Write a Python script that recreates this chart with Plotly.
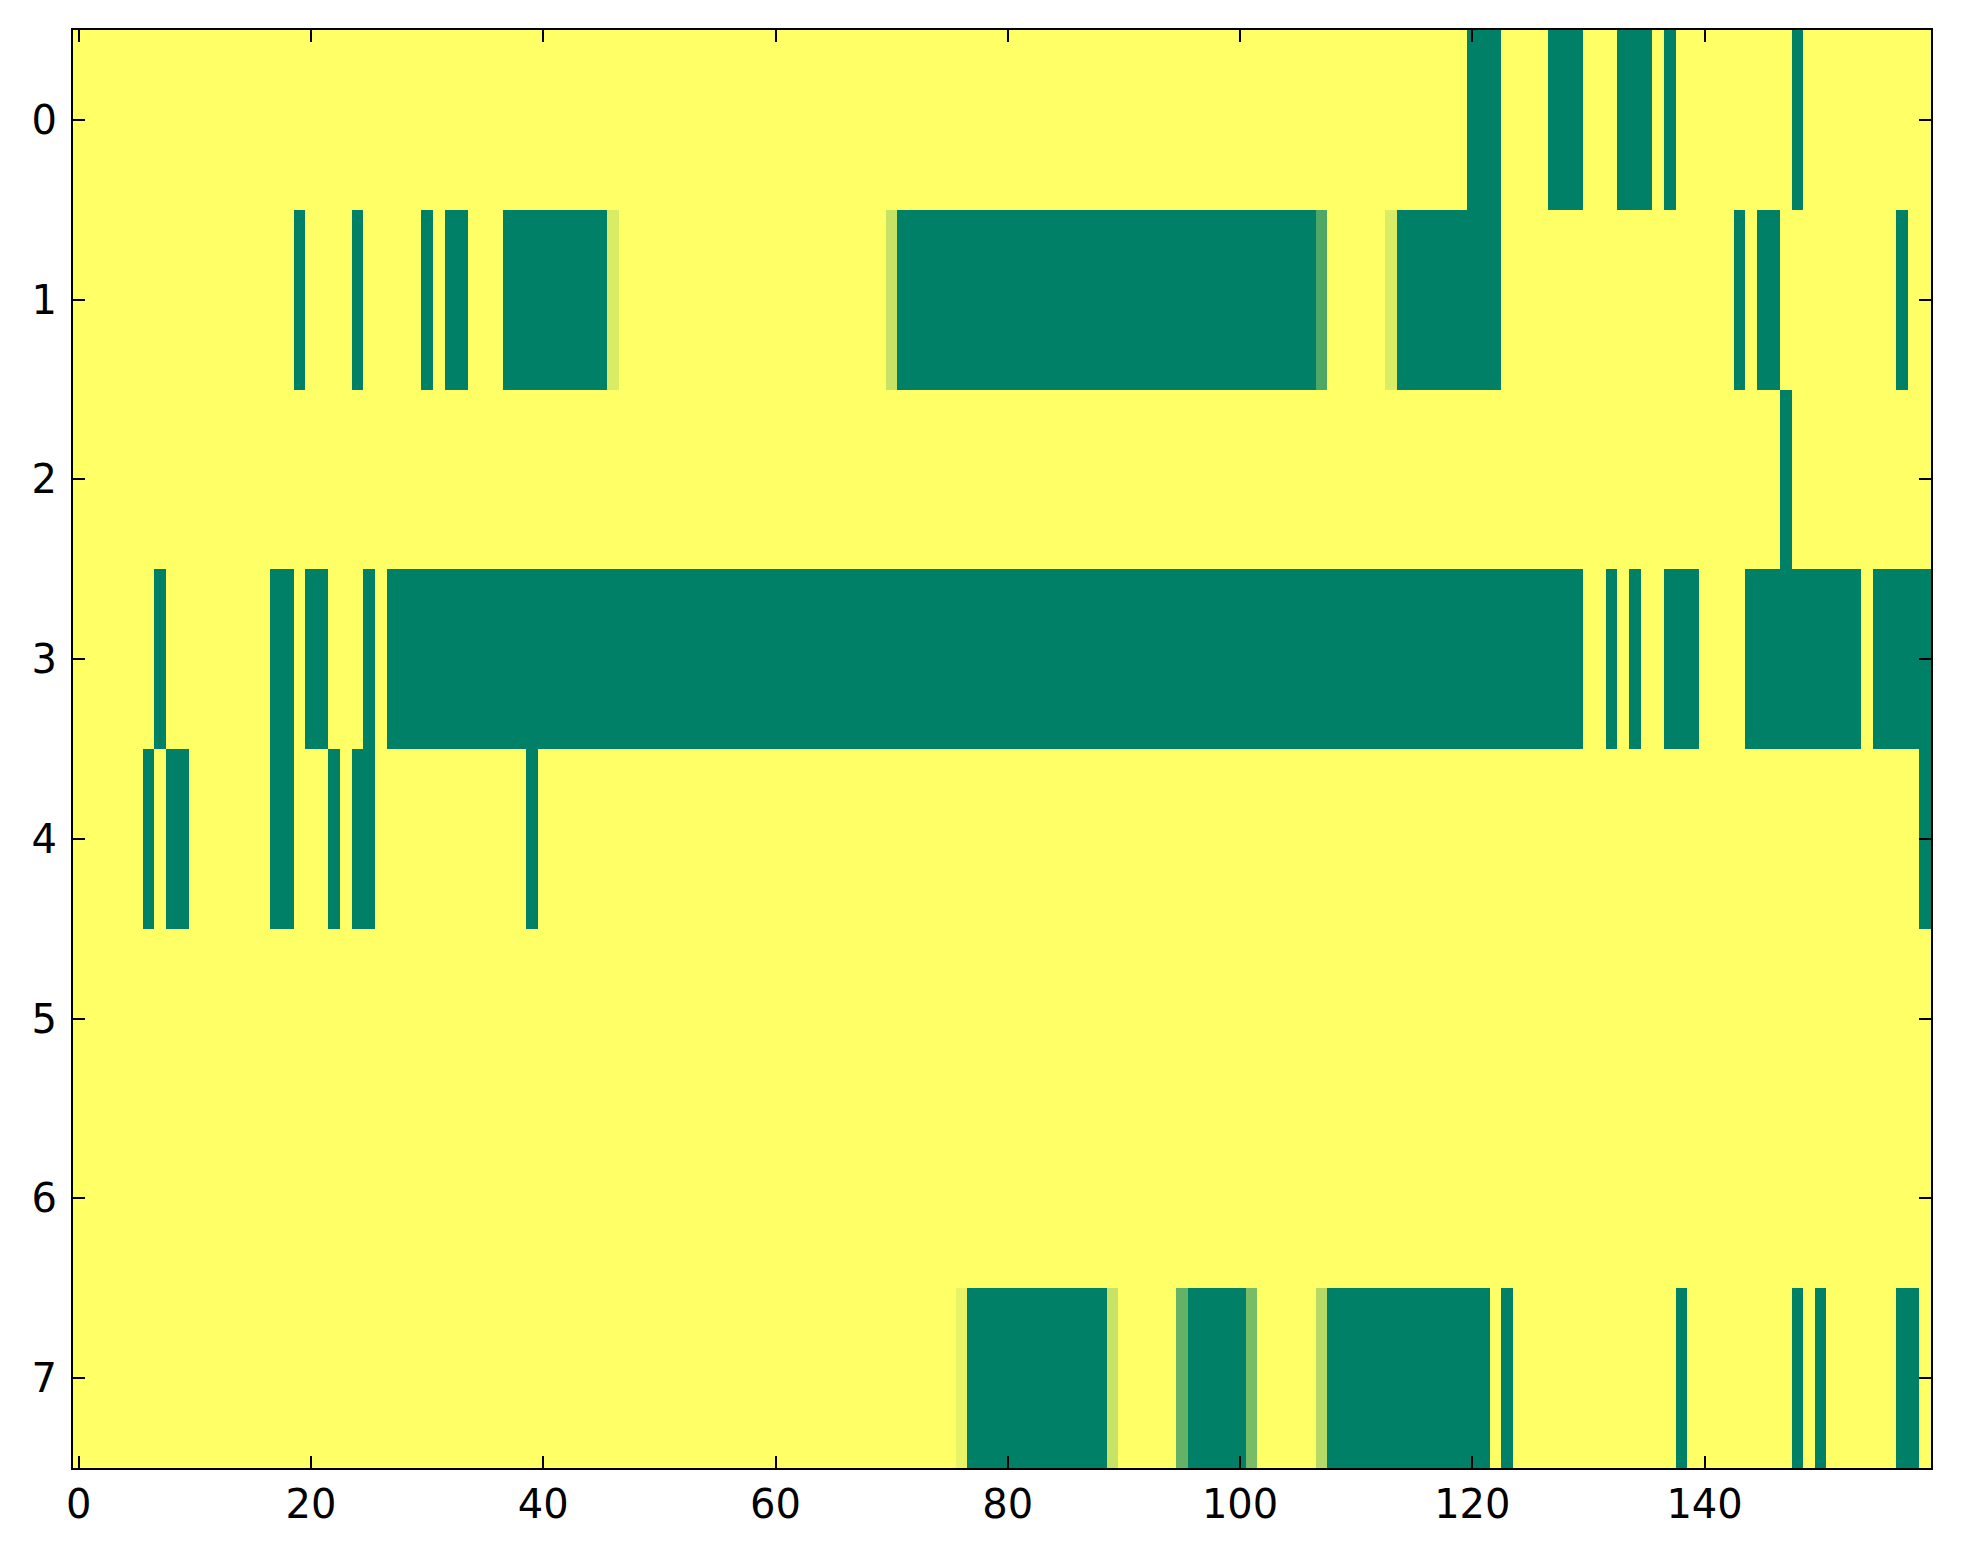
import numpy as np
import plotly.graph_objects as go

n_cols = 160
row_labels = [0, 1, 2, 3, 4, 5, 6, 7]
x_ticks = [0, 20, 40, 60, 80, 100, 120, 140]

# green runs per row (inclusive column ranges, value 0)
row0_runs = [(120, 122), (127, 129), (133, 135), (137, 137), (148, 148)]
row1_runs = [(19, 19), (24, 24), (30, 30), (32, 33), (37, 45), (71, 106),
             (114, 122), (143, 143), (145, 146), (157, 157)]
row2_runs = [(147, 147)]
row3_runs = [(7, 7), (17, 18), (20, 21), (25, 25), (27, 129), (132, 132),
             (134, 134), (137, 139), (144, 153), (155, 159)]
row4_runs = [(6, 6), (8, 9), (17, 18), (22, 22), (24, 25), (39, 39), (159, 159)]
row5_runs = []
row6_runs = []
row7_runs = [(77, 88), (96, 100), (108, 121), (123, 123), (138, 138),
             (148, 148), (150, 150), (157, 158)]

# in-between cells (row, col, value)
partial_cells = [(1, 46, 0.85), (1, 70, 0.78), (1, 107, 0.31), (1, 113, 0.85),
                 (7, 76, 0.91), (7, 89, 0.78), (7, 95, 0.39), (7, 101, 0.47),
                 (7, 107, 0.71)]

all_runs = [row0_runs, row1_runs, row2_runs, row3_runs,
            row4_runs, row5_runs, row6_runs, row7_runs]

z = np.ones((len(row_labels), n_cols))
for r, runs in enumerate(all_runs):
    for a, b in runs:
        z[r, a:b + 1] = 0.0
for r, c, v in partial_cells:
    z[r, c] = v

fig = go.Figure(go.Heatmap(
    z=z,
    x=list(range(n_cols)),
    y=row_labels,
    zmin=0, zmax=1,
    colorscale=[[0, 'rgb(0,128,102)'], [1, 'rgb(255,255,102)']],
    showscale=False,
))

axis_style = dict(
    showline=True, linecolor='black', linewidth=2, mirror='allticks',
    ticks='inside', ticklen=12, tickwidth=1.5, tickcolor='black',
    showgrid=False, zeroline=False,
    tickfont=dict(family='DejaVu Sans', size=40, color='black'),
)

fig.update_xaxes(range=[-0.5, 159.5], tickvals=x_ticks, **axis_style)
fig.update_yaxes(range=[7.5, -0.5], tickvals=row_labels, ticklabelstandoff=6, **axis_style)

fig.update_layout(
    width=1963, height=1564,
    margin=dict(l=65, r=40, t=22, b=104),
    paper_bgcolor='white', plot_bgcolor='white',
)

fig.write_html("out.html")
